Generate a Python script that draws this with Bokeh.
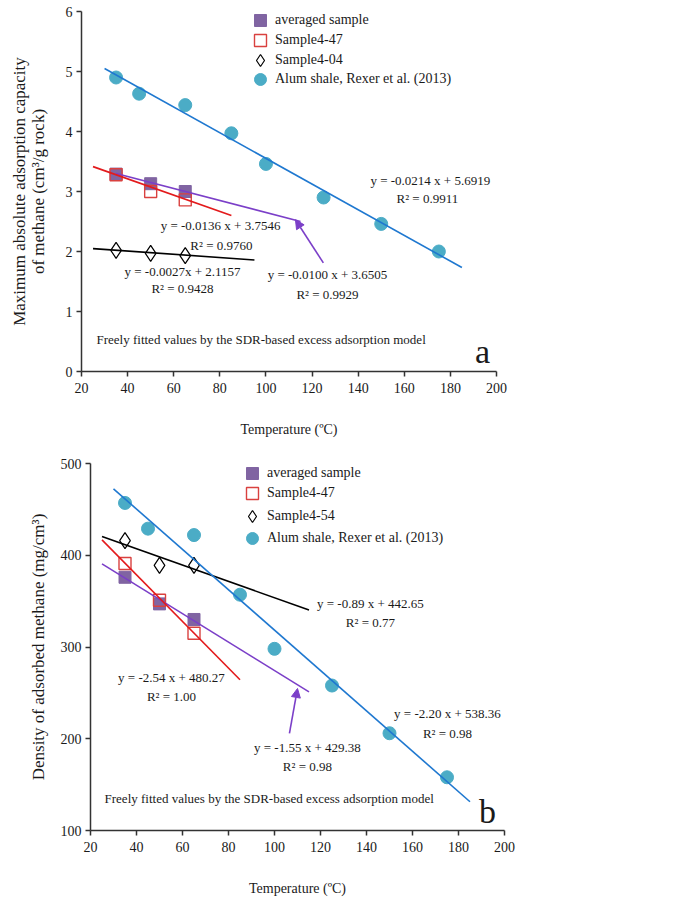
from bokeh.plotting import figure
from bokeh.models import Range1d, FixedTicker, Legend, LegendItem, Label, Arrow, NormalHead
from bokeh.embed import file_html
from bokeh.resources import INLINE

SERIF = "Liberation Serif"

# ---- panel a: maximum absolute adsorption capacity (cm3/g rock) ----
temp_samples = [35, 50, 65]
temp_alum = [35, 45, 65, 85, 100, 125, 150, 175]

cap_avg = [3.29, 3.13, 3.00]
cap_447 = [3.28, 3.00, 2.86]
cap_404 = [2.02, 1.97, 1.93]
cap_alum = [4.90, 4.63, 4.44, 3.97, 3.46, 2.90, 2.46, 2.00]

# linear fits: averaged, 4-47, 4-04, Alum
fit_a_slope = [-0.0100, -0.0136, -0.0027, -0.0214]
fit_a_icept = [3.6505, 3.7546, 2.1157, 5.6919]
fit_a_r2 = [0.9929, 0.9760, 0.9428, 0.9911]
fit_a_span = [(35, 115), (25, 85), (25, 95), (30, 185)]
fit_a_sep = [" ", " ", "", " "]

# ---- panel b: density of adsorbed methane (mg/cm3) ----
dens_avg = [376, 347, 330]
dens_447 = [391, 351, 315]
dens_454 = [416, 389, 389]
dens_alum = [457, 429, 422, 357, 298, 258, 206, 158]

# linear fits: averaged, 4-47, 4-54, Alum
fit_b_slope = [-1.55, -2.54, -0.89, -2.20]
fit_b_icept = [429.38, 480.27, 442.65, 538.36]
fit_b_r2 = [0.98, 1.00, 0.77, 0.98]
fit_b_span = [(25, 115), (25, 85), (25, 115), (30, 185)]
fit_b_sep = [" ", " ", " ", " "]

legend_a = ["averaged sample", "Sample4-47", "Sample4-04", "Alum shale, Rexer et al. (2013)"]
legend_b = ["averaged sample", "Sample4-47", "Sample4-54", "Alum shale, Rexer et al. (2013)"]

x_ticks = list(range(20, 201, 20))

PURPLE_FILL = "#8064A2"
PURPLE_LINE = "#7B3FC8"
RED_MARK = "#D9413F"
RED_LINE = "#E31A1C"
ALUM_FILL = "#4BACC6"
ALUM_LINE = "#1F78D0"
AXIS = "#333333"
TEXT = "#1a1a1a"

fit_colors = [PURPLE_LINE, RED_LINE, "black", ALUM_LINE]


def style_axes(p, y_label, y_ticks, title_standoff):
    p.xgrid.visible = False
    p.ygrid.visible = False
    p.outline_line_color = None
    p.xaxis.ticker = FixedTicker(ticks=x_ticks)
    p.yaxis.ticker = FixedTicker(ticks=y_ticks)
    for ax in (p.xaxis, p.yaxis):
        ax.axis_line_color = AXIS
        ax.axis_line_width = 1.5
        ax.major_tick_line_color = AXIS
        ax.major_tick_line_width = 1.5
        ax.major_tick_in = 0
        ax.major_tick_out = 5
        ax.minor_tick_line_color = None
        ax.major_label_text_font = SERIF
        ax.major_label_text_font_size = "14px"
        ax.major_label_text_color = TEXT
        ax.axis_label_text_font = SERIF
        ax.axis_label_text_font_style = "normal"
        ax.axis_label_text_color = TEXT
    p.xaxis.axis_label = "Temperature (ºC)"
    p.xaxis.axis_label_text_font_size = "14px"
    p.xaxis.major_label_standoff = 6
    p.xaxis.axis_label_standoff = 26
    p.yaxis.axis_label = y_label
    p.yaxis.axis_label_text_font_size = "17px"
    p.yaxis.axis_label_text_line_height = 1.0
    p.yaxis.major_label_standoff = 4
    p.yaxis.axis_label_standoff = title_standoff


def draw_series(p, avg, s447, sother, alum):
    r_alum = p.scatter(temp_alum, alum, marker="circle", size=13,
                       fill_color=ALUM_FILL, line_color=ALUM_FILL)
    r_avg = p.scatter(temp_samples, avg, marker="square", size=12,
                      fill_color=PURPLE_FILL, line_color=PURPLE_FILL)
    r_447 = p.scatter(temp_samples, s447, marker="square", size=12,
                      fill_color=None, line_color=RED_MARK, line_width=1.4)
    r_oth = p.scatter(temp_samples, sother, marker="diamond", size=16,
                      fill_color=None, line_color="black", line_width=1.2)
    return [r_avg, r_447, r_oth, r_alum]


def draw_fits(p, slopes, icepts, spans):
    for m, b, (x0, x1), c in zip(slopes, icepts, spans, fit_colors):
        p.line([x0, x1], [m * x0 + b, m * x1 + b], line_color=c, line_width=1.6)


def add_legend(p, renderers, labels, left, bottoms):
    # one legend per entry so each row can sit at its own height
    for r, t, yb in zip(renderers, labels, bottoms):
        leg = Legend(items=[LegendItem(label=t, renderers=[r])], location=(left, yb),
                     glyph_width=30, glyph_height=30, label_standoff=0,
                     padding=0, margin=0, background_fill_alpha=0, border_line_alpha=0,
                     label_text_font=SERIF, label_text_font_size="14px",
                     label_text_color=TEXT)
        p.add_layout(leg)


def note(p, x, y, text, size="13px", align="center"):
    p.add_layout(Label(x=x, y=y, text=text, text_align=align, text_baseline="middle",
                       text_font=SERIF, text_font_size=size, text_color=TEXT))


# ---------------- panel a ----------------
pa = figure(width=684, height=440, x_range=Range1d(20, 200), y_range=Range1d(0, 6),
            output_backend="svg", toolbar_location=None,
            min_border_left=81, min_border_right=188, min_border_top=11, min_border_bottom=69)
style_axes(pa, "Maximum absolute adsorption capacity\nof methane (cm³/g rock)",
           [0, 1, 2, 3, 4, 5, 6], 15)
ra = draw_series(pa, cap_avg, cap_447, cap_404, cap_alum)
draw_fits(pa, fit_a_slope, fit_a_icept, fit_a_span)
add_legend(pa, ra, legend_a, 164, [336, 316, 296, 277])

eq_pos_a = [(126.7, 1.61), (80.3, 2.43), (63.8, 1.66), (171.3, 3.18)]
r2_pos_a = [(126.7, 1.28), (80.7, 2.10), (63.8, 1.38), (170.0, 2.89)]
for m, b, r2, s, (ex, ey), (rx, ry) in zip(fit_a_slope, fit_a_icept, fit_a_r2, fit_a_sep,
                                            eq_pos_a, r2_pos_a):
    note(pa, ex, ey, f"y = {m:.4f}{s}x + {b:.4f}")
    note(pa, rx, ry, f"R² = {r2:.4f}")

pa.add_layout(Arrow(end=NormalHead(size=9, fill_color=PURPLE_LINE, line_color=PURPLE_LINE),
                    x_start=124.9, y_start=1.81, x_end=112.8, y_end=2.53,
                    line_color=PURPLE_LINE, line_width=1.6))
note(pa, 26.5, 0.53, "Freely fitted values by the SDR-based excess adsorption model", align="left")
note(pa, 193.9, 0.33, "a", size="34px")

# ---------------- panel b ----------------
pb = figure(width=684, height=458, x_range=Range1d(20, 200), y_range=Range1d(100, 500),
            output_backend="svg", toolbar_location=None,
            min_border_left=90, min_border_right=180, min_border_top=23, min_border_bottom=68)
style_axes(pb, "Density of adsorbed methane (mg/cm³)", [100, 200, 300, 400, 500], 10)
rb = draw_series(pb, dens_avg, dens_447, dens_454, dens_alum)
draw_fits(pb, fit_b_slope, fit_b_icept, fit_b_span)
add_legend(pb, rb, legend_b, 147, [342, 322, 299, 277])

eq_pos_b = [(114.3, 190.6), (55.2, 266.8), (141.7, 347.3), (175.2, 227.6)]
r2_pos_b = [(114.3, 169.9), (55.2, 246.1), (141.7, 326.6), (175.2, 205.9)]
for m, b, r2, s, (ex, ey), (rx, ry) in zip(fit_b_slope, fit_b_icept, fit_b_r2, fit_b_sep,
                                            eq_pos_b, r2_pos_b):
    note(pb, ex, ey, f"y = {m:.2f}{s}x + {b:.2f}")
    note(pb, rx, ry, f"R² = {r2:.2f}")

pb.add_layout(Arrow(end=NormalHead(size=9, fill_color=PURPLE_LINE, line_color=PURPLE_LINE),
                    x_start=106.5, y_start=205.9, x_end=110.0, y_end=254.8,
                    line_color=PURPLE_LINE, line_width=1.6))
note(pb, 26.1, 135.3, "Freely fitted values by the SDR-based excess adsorption model", align="left")
note(pb, 192.6, 121.0, "b", size="34px")

# the two panels are written as separate roots, stacked one above the other
open("out.html", "w").write(file_html([pa, pb], INLINE))
